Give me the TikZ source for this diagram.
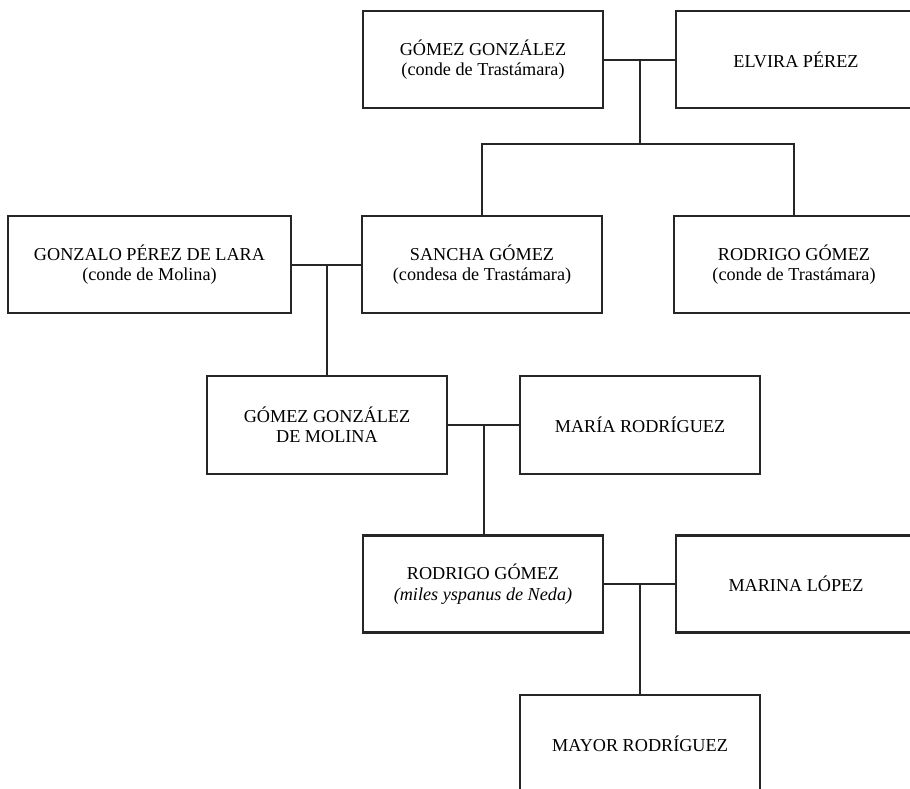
\documentclass[tikz,border=0pt]{standalone}
\usepackage{fontspec}
\setmainfont{Liberation Serif}
\usetikzlibrary{calc}
\tikzset{
  personbox/.style={draw=black!85,line width=2.2pt,align=center,inner sep=0pt,
    minimum width=240pt,minimum height=97pt,font=\fontsize{18.2}{20.5}\selectfont},
  familyline/.style={draw=black!85,line width=2pt}
}
\begin{document}
\begin{tikzpicture}[x=1pt,y=-1pt]
  \useasboundingbox (0,0) rectangle (910,788);
  \clip (0,0) rectangle (910,788);
  % first generation
  \node[personbox] (gomez) at (483,59.5) {GÓMEZ GONZÁLEZ\\(conde de Trastámara)};
  \node[personbox] (elvira) at (796,59.5) {ELVIRA PÉREZ};
  % second generation
  \node[personbox,minimum width=283pt] (gonzalo) at (149.5,264.5) {GONZALO PÉREZ DE LARA\\(conde de Molina)};
  \node[personbox] (sancha) at (482,264.5) {SANCHA GÓMEZ\\(condesa de Trastámara)};
  \node[personbox] (rodrigoconde) at (794,264.5) {RODRIGO GÓMEZ\\(conde de Trastámara)};
  % third generation
  \node[personbox,minimum height=98pt] (molina) at (327,425) {GÓMEZ GONZÁLEZ\\DE MOLINA};
  \node[personbox,minimum height=98pt] (maria) at (640,425) {MARÍA RODRÍGUEZ};
  % fourth generation
  \node[personbox] (rodrigomiles) at (483,584) {RODRIGO GÓMEZ\\\textit{(miles yspanus de Neda)}};
  \node[personbox] (marina) at (796,584) {MARINA LÓPEZ};
  % fifth generation
  \node[personbox] (mayor) at (640,743.5) {MAYOR RODRÍGUEZ};

  \draw[familyline] (gomez.east) -- (elvira.west);
  \coordinate (toprow) at ($(gomez.east)!0.5!(elvira.west)$);
  \coordinate (split) at ($(toprow)+(0,84.5)$);
  \draw[familyline] (toprow) -- (split);
  \draw[familyline] (sancha.north) -- (sancha.north |- split)
    -- (rodrigoconde.north |- split) -- (rodrigoconde.north);

  \draw[familyline] (gonzalo.east) -- (sancha.west);
  \coordinate (larajoin) at ($(gonzalo.east)!0.5!(sancha.west)$);
  \draw[familyline] (larajoin) -- (larajoin |- molina.north);

  \draw[familyline] (molina.east) -- (maria.west);
  \coordinate (molinajoin) at ($(molina.east)!0.5!(maria.west)$);
  \draw[familyline] (molinajoin) -- (molinajoin |- rodrigomiles.north);

  \draw[familyline] (rodrigomiles.east) -- (marina.west);
  \coordinate (nedajoin) at ($(rodrigomiles.east)!0.5!(marina.west)$);
  \draw[familyline] (nedajoin) -- (nedajoin |- mayor.north);
\end{tikzpicture}
\end{document}
